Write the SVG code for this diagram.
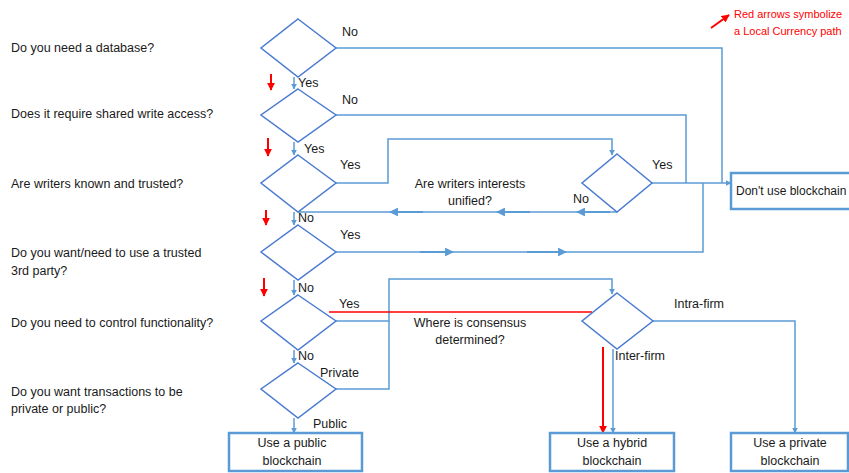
<svg xmlns="http://www.w3.org/2000/svg" width="849" height="473" viewBox="0 0 849 473">
<style>
text{font-family:"Liberation Sans",Arial,sans-serif;font-size:12.5px;fill:#1a1a1a}
.c{text-anchor:middle}
.red{fill:#ff0000;font-size:11px}
.dia{fill:#fff;stroke:#4a7bd0;stroke-width:1.5}
.box{fill:#fff;stroke:#5b9bd5;stroke-width:2.5}
.ln{fill:none;stroke:#5b9bd5;stroke-width:1.5}
.la{fill:none;stroke:#5b9bd5;stroke-width:1.5;marker-end:url(#ab)}
.ma{fill:none;stroke:#5b9bd5;stroke-width:2.2;marker-end:url(#ab)}
.rl{fill:none;stroke:#ff0000;stroke-width:1.3}
.ra{fill:none;stroke:#ff0000;stroke-width:2;marker-end:url(#ar)}
</style>
<defs>
<marker id="ab" viewBox="0 0 10 10" refX="9" refY="5" markerWidth="4" markerHeight="4" orient="auto" markerUnits="strokeWidth"><path d="M0,0 L10,5 L0,10 z" fill="#5b9bd5"/></marker>
<marker id="ar" viewBox="0 0 10 10" refX="9" refY="5" markerWidth="4" markerHeight="4" orient="auto" markerUnits="strokeWidth"><path d="M0,0 L10,5 L0,10 z" fill="#ff0000"/></marker>
</defs>
<rect width="849" height="473" fill="#fff"/>

<g id="connectors">
<path class="la" d="M294,77 V89"/>
<path class="la" d="M294,142 V155"/>
<path class="la" d="M294,212 V225"/>
<path class="la" d="M294,280 V295"/>
<path class="la" d="M294,350 V363"/>
<path class="la" d="M294,418 V433"/>
<path class="ln" d="M336,48 H722 V183"/>
<path class="ln" d="M336,115 H686 V183"/>
<path class="la" d="M652,183 H731"/>
<path class="ln" d="M336,252 H703 V183"/>
<path class="la" d="M336,183 H388 V139 H612 V155"/>
<path class="ln" d="M617,212 H298"/>
<path class="ma" d="M610,212 H577"/>
<path class="ma" d="M530,212 H497"/>
<path class="ma" d="M423,212 H390"/>
<path class="ma" d="M420,252 H453"/>
<path class="ma" d="M527,252 H566"/>
<path class="la" d="M336,321 H389 V279 H612 V294"/>
<path class="ln" d="M336,389 H389 V321"/>
<path class="rl" d="M329,312 H592"/>
<path class="la" d="M613,349 V433"/>
<path class="ra" d="M603,347 V433"/>
<path class="la" d="M653,321 H795 V433"/>
<path class="ra" d="M271,74 V90"/>
<path class="ra" d="M268,138 V156"/>
<path class="ra" d="M266,210 V225"/>
<path class="ra" d="M264,278 V296"/>
<path class="ra" d="M711,28 L729,15"/>
</g>

<g id="q1"><text x="11" y="52">Do you need a database?</text><polygon class="dia" points="298,19 336,48 298,77 261,48"/></g>
<g id="q2"><text x="11" y="118">Does it require shared write access?</text><polygon class="dia" points="298,89 336,115 298,142 261,115"/></g>
<g id="q3"><text x="11" y="188">Are writers known and trusted?</text><polygon class="dia" points="298,155 336,183 298,212 261,183"/></g>
<g id="q4"><text x="11" y="257">Do you want/need to use a trusted</text><text x="11" y="275">3rd party?</text><polygon class="dia" points="298,225 336,252 298,280 261,252"/></g>
<g id="q5"><text x="11" y="327">Do you need to control functionality?</text><polygon class="dia" points="298,295 336,321 298,350 261,321"/></g>
<g id="q6"><text x="11" y="396">Do you want transactions to be</text><text x="11" y="413">private or public?</text><polygon class="dia" points="298,363 336,389 298,418 261,389"/></g>
<g id="qA"><polygon class="dia" points="617,154 652,183 617,212 582,183"/><text class="c" x="470" y="188">Are writers interests</text><text class="c" x="470" y="205">unified?</text></g>
<g id="qB"><polygon class="dia" points="617,293 653,321 617,349 582,321"/><text class="c" x="470" y="327">Where is consensus</text><text class="c" x="470" y="344">determined?</text></g>

<g id="dont"><rect class="box" x="731" y="173" width="130" height="36"/><text x="736" y="195" style="font-size:12px">Don't use blockchain</text></g>
<g id="public"><rect class="box" x="229" y="433" width="133" height="38"/><text class="c" x="292" y="447">Use a public</text><text class="c" x="292" y="465">blockchain</text></g>
<g id="hybrid"><rect class="box" x="550" y="433" width="124" height="38"/><text class="c" x="612" y="447">Use a hybrid</text><text class="c" x="612" y="465">blockchain</text></g>
<g id="private"><rect class="box" x="731" y="433" width="117" height="38"/><text class="c" x="790" y="447">Use a private</text><text class="c" x="790" y="465">blockchain</text></g>

<g id="labels">
<text x="342" y="36">No</text>
<text x="298" y="87">Yes</text>
<text x="342" y="104">No</text>
<text x="304" y="153">Yes</text>
<text x="340" y="169">Yes</text>
<text x="652" y="169">Yes</text>
<text x="573" y="203">No</text>
<text x="298" y="222">No</text>
<text x="340" y="239">Yes</text>
<text x="298" y="292">No</text>
<text x="339" y="308">Yes</text>
<text x="674" y="308">Intra-firm</text>
<text x="298" y="360">No</text>
<text x="615" y="360">Inter-firm</text>
<text x="320" y="377">Private</text>
<text x="313" y="428">Public</text>
</g>
<g id="legend"><text class="red" x="734" y="18">Red arrows symbolize</text><text class="red" x="734" y="35">a Local Currency path</text></g>
</svg>
